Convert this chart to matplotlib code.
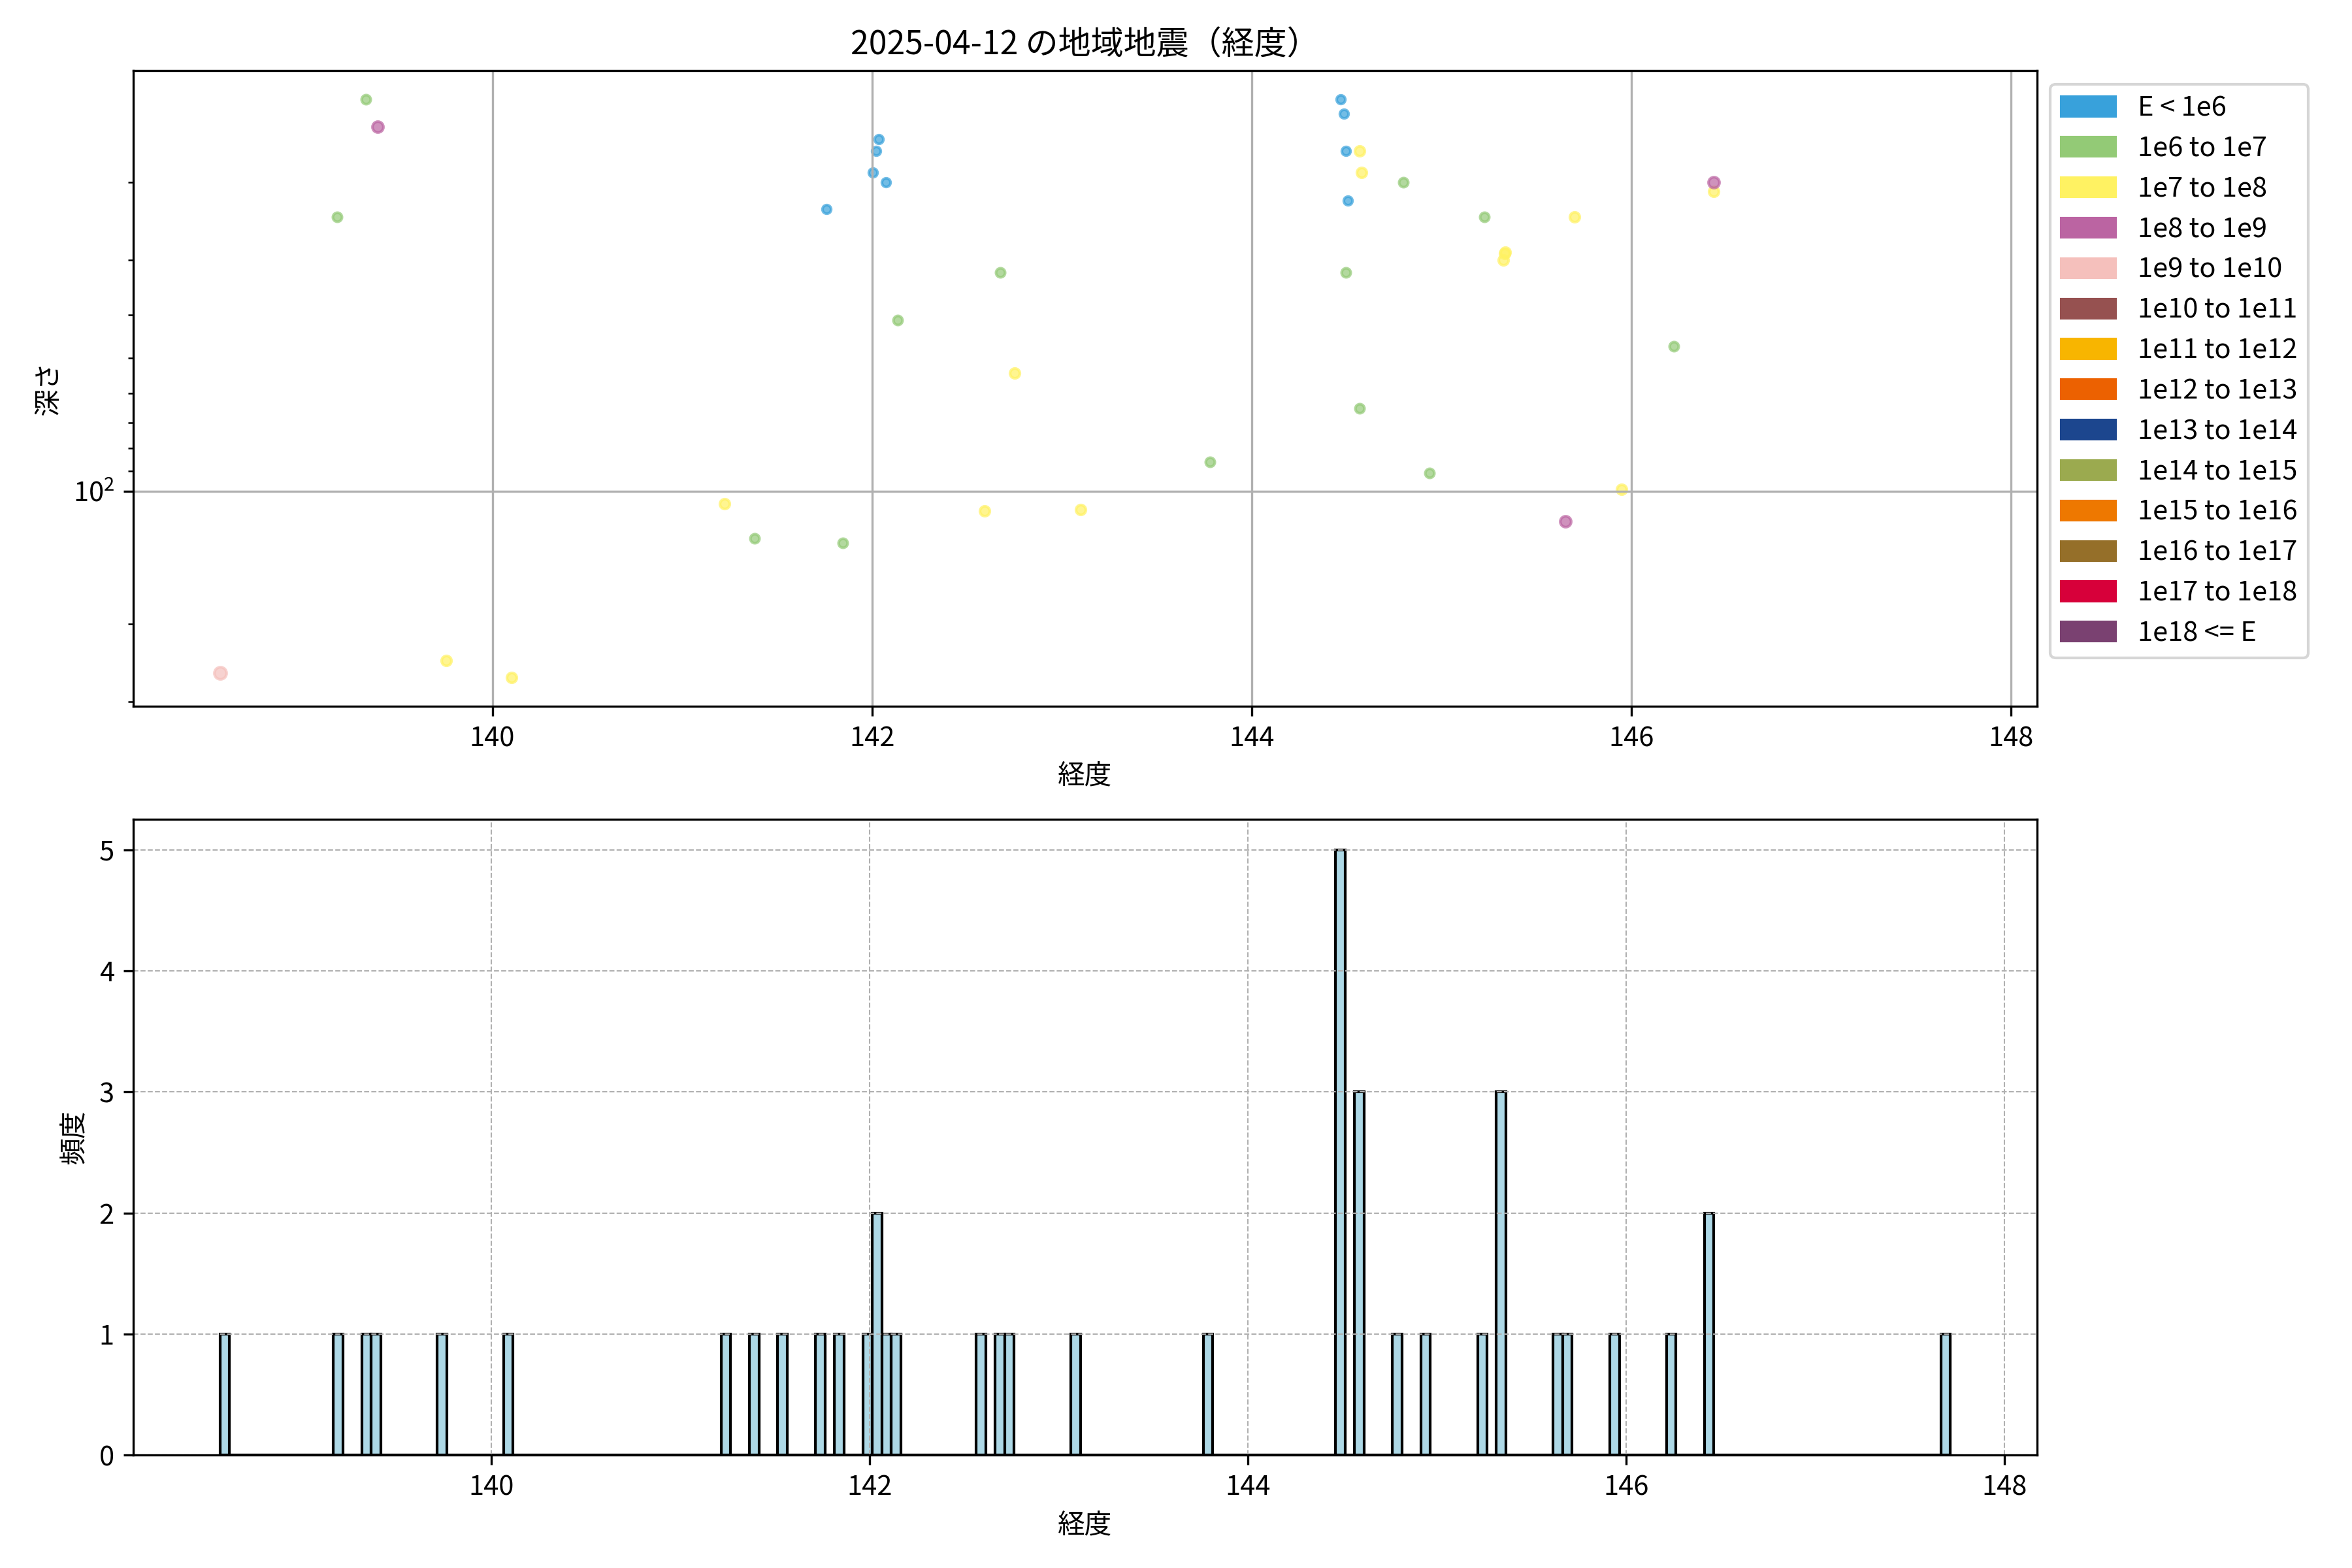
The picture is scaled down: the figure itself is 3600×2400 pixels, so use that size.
import matplotlib
matplotlib.use("Agg")
import matplotlib.pyplot as plt
from matplotlib.patches import Patch
import numpy as np

plt.rcParams['font.family'] = ['Noto Sans CJK JP', 'DejaVu Sans']

# Events: longitude, depth (km), energy class index
# (two events have no usable depth on the log axis, so they only show in the histogram)
longitude = [
    139.333, 139.395, 139.181, 141.759, 141.223, 141.380, 141.846, 138.565,
    139.757, 140.103, 142.034, 142.022, 142.003, 142.075, 142.674, 142.136,
    142.752, 143.780, 142.592, 143.100, 144.468, 144.485, 144.497, 144.567,
    144.577, 144.799, 144.508, 145.225, 145.332, 145.325, 145.336, 144.497,
    144.567, 144.936, 145.651, 146.435, 146.435, 145.700, 146.225, 145.950,
    141.530, 147.680,
]
depth = [
    13, 15, 24, 23, 107, 128, 131, 258,
    242, 264, 16, 17, 19, 20, 32, 41,
    54, 86, 111, 110, 13, 14, 17, 17,
    19, 20, 22, 24, 29, 30, 28.8, 32,
    65, 91, 117, 20, 21, 24, 47, 99,
    0, 0,
]
energy_class = [
    1, 3, 1, 0, 2, 1, 1, 4,
    2, 2, 0, 0, 0, 0, 1, 1,
    2, 1, 2, 2, 0, 0, 0, 2,
    2, 1, 0, 1, 2, 2, 2, 1,
    1, 1, 3, 3, 2, 2, 1, 2,
    1, 1,
]

class_labels = [
    "E < 1e6", "1e6 to 1e7", "1e7 to 1e8", "1e8 to 1e9", "1e9 to 1e10",
    "1e10 to 1e11", "1e11 to 1e12", "1e12 to 1e13", "1e13 to 1e14",
    "1e14 to 1e15", "1e15 to 1e16", "1e16 to 1e17", "1e17 to 1e18",
    "1e18 <= E",
]
class_colors = [
    "#38a1db", "#93ca76", "#fff262", "#bb64a2", "#f5c0bc",
    "#965150", "#f8b500", "#ec6101", "#1c468e",
    "#9baa4f", "#ee7800", "#956f29", "#d7003a",
    "#7a4171",
]
class_sizes = [10, 11, 13, 16, 20, 24, 28, 32, 36, 40, 44, 48, 52, 56]

lon = np.array(longitude)
dep = np.array(depth, dtype=float)
cls = np.array(energy_class)

fig, (ax1, ax2) = plt.subplots(2, 1, figsize=(12, 8), dpi=300)

# --- top: depth vs longitude ---
for i, (label, color) in enumerate(zip(class_labels, class_colors)):
    m = cls == i
    if m.any():
        ax1.scatter(lon[m], dep[m], s=class_sizes[i], color=color, alpha=0.7)

ax1.set_yscale("log")
ax1.invert_yaxis()
ax1.set_title("2025-04-12 の地域地震（経度）")
ax1.set_xlabel("経度")
ax1.set_ylabel("深さ")
ax1.grid(True)
handles = [Patch(color=c, label=l) for l, c in zip(class_labels, class_colors)]
ax1.legend(handles=handles, loc="upper left", bbox_to_anchor=(1, 1))

# --- bottom: histogram of longitude ---
bins = np.arange(lon.min(), lon.max() + 0.05, 0.05)
ax2.hist(lon, bins=bins, color="lightblue", edgecolor="black")
ax2.set_xlabel("経度")
ax2.set_ylabel("頻度")
ax2.grid(True, linestyle="--", linewidth=0.5)

fig.subplots_adjust(left=0.0567, right=0.866, top=0.955, bottom=0.072, hspace=0.178)
plt.savefig("out.png")
